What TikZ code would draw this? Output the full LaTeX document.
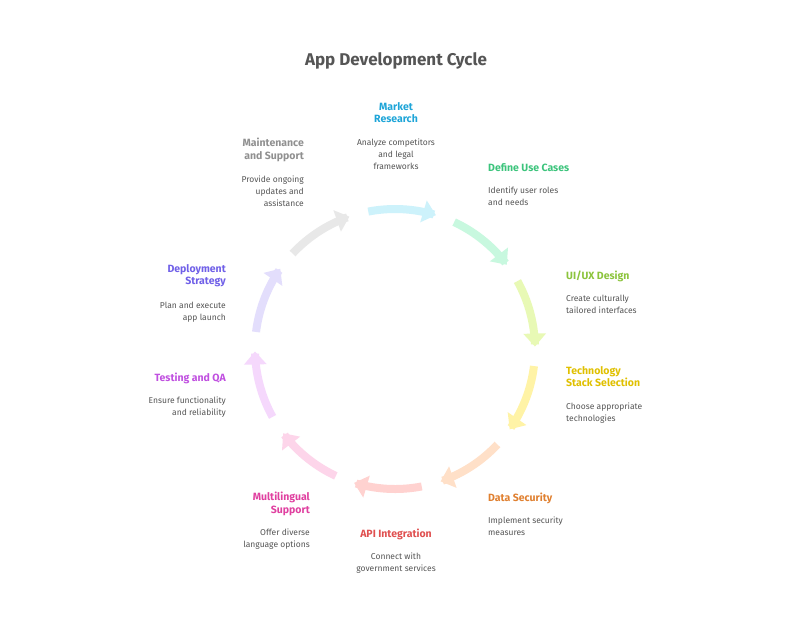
\documentclass[tikz,border=0pt]{standalone}
\usepackage{fontspec}
\setmainfont{Fira Sans}
\usetikzlibrary{arrows.meta}
\definecolor{txt}{HTML}{555555}
\definecolor{c1}{HTML}{1EA5D8}
\definecolor{c2}{HTML}{3CC47C}
\definecolor{c3}{HTML}{8CC43C}
\definecolor{c4}{HTML}{E0C000}
\definecolor{c5}{HTML}{E08030}
\definecolor{c6}{HTML}{E05050}
\definecolor{c7}{HTML}{E040A0}
\definecolor{c8}{HTML}{C050E0}
\definecolor{c9}{HTML}{7060E8}
\definecolor{c10}{HTML}{909090}
\tikzset{
 ttl/.style={font=\bfseries\fontsize{10.5}{12.5}\selectfont,align=#1,inner sep=0pt},
 dsc/.style={font=\fontsize{8.5}{12}\selectfont,text=txt,align=#1,inner sep=0pt},
 arc/.style={line width=8pt,draw=#1,-{Triangle[length=13pt,width=22pt]}}
}
\begin{document}
\begin{tikzpicture}[x=1pt,y=-1pt]
\useasboundingbox[fill=white] (0,0) rectangle (792,630);
\node[font=\bfseries\fontsize{17}{20}\selectfont,text=txt] (title) at (396,61) {App Development Cycle};
\foreach \k/\col in {0/CDF2FB,1/C8F8DF,2/E8F9B5,3/FFF3A6,4/FFE0C8,5/FFD2D0,6/FDD5EA,7/F5D8FC,8/E3DEFC,9/E8E8E8}{
  \pgfmathsetmacro\cen{87-36*\k}
  \definecolor{ac}{HTML}{\col}
  \draw[arc=ac] plot[domain={\cen+14}:{\cen-14},samples=30,smooth] ({395+140*cos(\x)},{349-140*sin(\x)});
}
\node[ttl=center,text=c1,anchor=north] (t1) at (396,102) {Market\\Research};
\node[dsc=center,anchor=north] (d1) at (396,139) {Analyze competitors\\and legal\\frameworks};
\node[ttl=left,text=c2,anchor=north west] (t2) at (488,163) {Define Use Cases};
\node[dsc=left,anchor=north west] (d2) at (488,187) {Identify user roles\\and needs};
\node[ttl=left,text=c3,anchor=north west] (t3) at (566,271) {UI/UX Design};
\node[dsc=left,anchor=north west] (d3) at (566,295) {Create culturally\\tailored interfaces};
\node[ttl=left,text=c4,anchor=north west] (t4) at (566,366) {Technology\\Stack Selection};
\node[dsc=left,anchor=north west] (d4) at (566,403) {Choose appropriate\\technologies};
\node[ttl=left,text=c5,anchor=north west] (t5) at (488,493) {Data Security};
\node[dsc=left,anchor=north west] (d5) at (488,517) {Implement security\\measures};
\node[ttl=center,text=c6,anchor=north] (t6) at (396,529) {API Integration};
\node[dsc=center,anchor=north] (d6) at (396,553) {Connect with\\government services};
\node[ttl=right,text=c7,anchor=north east] (t7) at (310,492) {Multilingual\\Support};
\node[dsc=right,anchor=north east] (d7) at (310,529) {Offer diverse\\language options};
\node[ttl=right,text=c8,anchor=north east] (t8) at (226,373) {Testing and QA};
\node[dsc=right,anchor=north east] (d8) at (226,397) {Ensure functionality\\and reliability};
\node[ttl=right,text=c9,anchor=north east] (t9) at (226,264) {Deployment\\Strategy};
\node[dsc=right,anchor=north east] (d9) at (226,302) {Plan and execute\\app launch};
\node[ttl=right,text=c10,anchor=north east] (t10) at (304,138) {Maintenance\\and Support};
\node[dsc=right,anchor=north east] (d10) at (304,176) {Provide ongoing\\updates and\\assistance};
\end{tikzpicture}
\end{document}
